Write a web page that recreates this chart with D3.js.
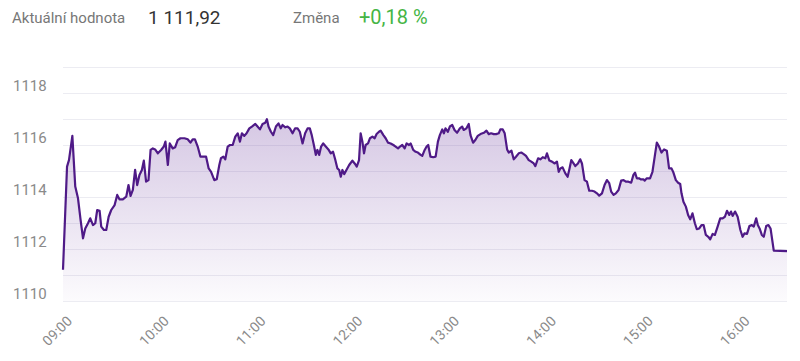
<!DOCTYPE html>
<html>
<head>
<meta charset="utf-8">
<script src="https://cdn.jsdelivr.net/npm/d3@7"></script>
<style>
  body { margin: 0; background: #fff; font-family: Roboto, sans-serif; }
</style>
</head>
<body>
<script>
var headerLabels = ["Aktuální hodnota", "Změna"];
var headerValues = ["1 111,92", "+0,18 %"];

var yTicks = [1110, 1112, 1114, 1116, 1118];
var xTickLabels = ["09:00", "10:00", "11:00", "12:00", "13:00", "14:00", "15:00", "16:00"];

// minutes after 09:00
var minutesFromOpen = [
  0, 2.5, 3.7, 5.8, 7.6, 9.3, 10.9, 12.4, 13.8, 15.5, 16.9, 18.6, 20.0, 21.2, 22.7, 23.7, 25.4, 26.8, 28.3, 29.9,
  32.0, 33.6, 35.0, 37.1, 39.2, 40.6, 41.9, 43.3, 44.7, 46.0, 47.4, 48.9, 50.1, 51.5, 53.0, 54.3, 55.7, 57.1, 58.8, 60.8,
  62.5, 63.5, 65.0, 66.2, 68.0, 69.5, 71.1, 72.8, 75.3, 77.3, 79.0, 80.4, 81.8, 83.5, 85.2, 87.2,
  88.7, 90.3, 91.8, 93.8, 95.3, 96.9, 97.9, 99.4, 100.6, 102.1, 103.5, 105.2, 106.8, 108.3, 109.7, 110.9, 112.4, 113.8,
  115.5, 117.1, 119.2, 120.6, 122.1, 123.7, 125.4, 126.4, 127.4, 128.9, 130.3, 132.0, 133.6, 135.0, 136.1, 137.8, 139.2,
  140.6, 142.3, 143.9, 145.4, 146.8, 148.5, 150.1, 151.6, 153.0, 154.2, 155.7, 156.7, 157.7, 158.8, 160.0, 161.3, 162.9,
  164.5, 166.0, 167.4, 168.7, 170.1, 171.2, 172.2, 173.2, 174.3, 175.7, 177.4,
  179.4, 180.8, 182.1, 183.5, 184.5, 185.6, 186.6, 187.6, 189.1, 190.3, 191.8, 193.2, 194.4, 195.9, 196.9, 198.6, 200.0,
  201.5, 203.1, 204.8, 206.2, 207.7, 208.9, 210.3, 211.8, 213.0, 214.5, 215.5, 217.1, 218.6, 220.0, 221.7, 222.7, 224.2,
  225.4, 226.4, 227.8, 229.5, 231.0, 232.4, 233.6, 235.1, 236.1, 237.1, 238.6, 239.8, 241.3, 242.7, 244.3, 246.0, 247.4,
  248.4, 250.1, 251.5, 252.6, 254.2, 255.6, 257.1, 258.8, 260.9, 262.5, 263.9, 265.4, 267.0,
  268.5, 270.1, 271.1, 272.6, 273.8, 275.3, 276.3, 278.0, 279.4, 280.8, 282.5, 284.1, 285.6, 287.0, 288.7, 290.3, 291.8,
  292.8, 294.5, 295.9, 297.4, 299.0, 300.0, 301.5, 303.1, 304.8, 306.2, 307.3, 308.3, 309.7, 311.4, 312.8, 314.0, 315.1,
  316.5, 317.6, 319.2, 320.6, 321.7, 323.3, 324.8, 326.2, 327.9, 329.5, 331.0, 332.4, 334.1, 335.7, 337.2, 338.6, 339.8,
  341.3, 342.7, 344.4, 346.0, 347.5, 348.9, 350.5, 352.2, 353.6, 354.6, 355.7, 357.1,
  358.1, 359.8, 360.6, 361.9, 363.9, 365.4, 366.8, 368.1, 369.5, 371.0, 372.6, 374.3, 375.7, 377.2, 378.4, 379.9, 381.3,
  382.6, 383.4, 384.6, 386.1, 387.5, 388.8, 390.2, 391.7, 392.9, 394.4, 395.8, 397.1, 398.5, 400.0, 401.2, 402.7, 404.1,
  405.8, 407.4, 408.9, 410.3, 411.6, 413.0, 414.1, 415.1, 416.6, 418.2, 419.9, 421.3, 422.4, 424.0, 425.5, 427.0, 428.2,
  429.7, 430.7, 431.8, 433.2, 434.4, 435.9, 437.3, 438.6, 440.6, 448.8
];

var prices = [
  1111.2, 1115.17, 1115.42, 1116.35, 1114.40, 1113.95, 1113.12, 1112.41, 1112.79, 1112.99, 1113.18, 1112.92, 1112.99, 1113.50, 1113.47, 1112.86, 1112.73, 1112.73, 1113.24, 1113.50,
  1113.69, 1114.08, 1113.91, 1113.91, 1114.01, 1114.46, 1114.04, 1114.27, 1115.04, 1114.46, 1114.85, 1115.04, 1115.40, 1114.59, 1114.65, 1115.81, 1115.87, 1115.83, 1115.68, 1115.81,
  1115.94, 1116.13, 1115.23, 1116.06, 1115.87, 1115.91, 1116.19, 1116.26, 1116.26, 1116.22, 1116.09, 1116.22, 1116.22, 1115.94, 1115.55, 1115.55,
  1115.55, 1115.10, 1114.97, 1114.65, 1114.68, 1115.23, 1115.49, 1115.55, 1115.45, 1115.94, 1116.00, 1116.00, 1116.32, 1116.45, 1116.13, 1116.45, 1116.35, 1116.45,
  1116.64, 1116.71, 1116.81, 1116.71, 1116.60, 1116.81, 1116.86, 1116.99, 1116.71, 1116.51, 1116.38, 1116.71, 1116.83, 1116.64, 1116.77, 1116.68, 1116.71,
  1116.64, 1116.45, 1116.64, 1116.64, 1116.51, 1116.06, 1116.45, 1116.64, 1116.64, 1116.38, 1115.94, 1115.62, 1115.81, 1115.62, 1115.94, 1116.06, 1115.94,
  1115.83, 1115.68, 1115.74, 1115.45, 1115.10, 1115.04, 1114.78, 1115.04, 1114.88, 1115.04, 1115.23,
  1115.40, 1115.29, 1115.17, 1115.42, 1116.45, 1116.13, 1115.68, 1116.00, 1116.06, 1116.26, 1116.32, 1116.26, 1116.42, 1116.51, 1116.55, 1116.38, 1116.26,
  1116.09, 1116.06, 1116.00, 1115.94, 1115.87, 1115.94, 1116.00, 1115.87, 1116.06, 1116.00, 1116.06, 1115.81, 1115.74, 1115.71, 1115.62, 1115.58, 1115.81,
  1115.94, 1116.00, 1115.55, 1115.53, 1115.55, 1116.13, 1116.38, 1116.60, 1116.45, 1116.64, 1116.51, 1116.71, 1116.77, 1116.58, 1116.47, 1116.64, 1116.71,
  1116.58, 1116.64, 1116.81, 1116.38, 1116.09, 1116.19, 1116.35, 1116.42, 1116.47, 1116.55, 1116.42, 1116.45, 1116.42,
  1116.42, 1116.45, 1116.60, 1116.60, 1116.45, 1115.83, 1115.71, 1115.78, 1115.45, 1115.55, 1115.68, 1115.71, 1115.65, 1115.58, 1115.42, 1115.36, 1115.29,
  1115.19, 1115.49, 1115.45, 1115.53, 1115.49, 1115.68, 1115.40, 1115.36, 1115.29, 1115.36, 1114.97, 1115.10, 1115.14, 1114.91, 1114.78, 1115.10, 1115.42,
  1115.29, 1115.19, 1115.29, 1115.45, 1115.29, 1114.65, 1114.59, 1114.24, 1114.24, 1114.21, 1114.14, 1114.05, 1114.14, 1114.46, 1114.65, 1114.53, 1114.21,
  1114.08, 1114.14, 1114.27, 1114.63, 1114.65, 1114.59, 1114.59, 1114.55, 1114.85, 1114.94, 1114.72, 1114.72,
  1114.68, 1114.68, 1114.63, 1114.72, 1114.72, 1114.97, 1115.55, 1116.09, 1115.94, 1115.71, 1115.83, 1115.78, 1115.10, 1115.10, 1114.94, 1114.65, 1114.55,
  1114.50, 1114.14, 1113.82, 1113.63, 1113.31, 1113.14, 1113.37, 1112.99, 1112.76, 1112.79, 1112.92, 1112.92, 1112.54, 1112.47, 1112.37, 1112.58, 1112.54,
  1112.86, 1113.18, 1113.18, 1113.24, 1113.47, 1113.31, 1113.44, 1113.27, 1113.44, 1113.24, 1112.73, 1112.47, 1112.60, 1112.58, 1112.88, 1112.92, 1112.86,
  1113.18, 1112.92, 1112.79, 1112.54, 1112.47, 1112.88, 1112.92, 1112.79, 1111.94, 1111.92
];

var width = 800, height = 361;
var openTime = new Date(2020, 0, 6, 9, 0);

var data = minutesFromOpen.map(function(m, i) {
  return {date: new Date(openTime.getTime() + m * 60000), value: prices[i]};
});

var x = d3.scaleTime()
  .domain(d3.extent(data, function(d) { return d.date; }))
  .range([63, 787]);

var y = d3.scaleLinear()
  .domain([1110, 1119])
  .range([301, 67]);

var svg = d3.select("body").append("svg")
  .attr("width", width)
  .attr("height", height);

// header
var header = svg.append("g").attr("class", "header");
header.append("text").attr("x", 12).attr("y", 23)
  .style("font-size", "15px").style("fill", "#777")
  .text(headerLabels[0]);
header.append("text").attr("x", 148).attr("y", 24)
  .style("font-size", "19px").style("fill", "#333")
  .text(headerValues[0]);
header.append("text").attr("x", 293).attr("y", 23)
  .style("font-size", "15px").style("fill", "#777")
  .text(headerLabels[1]);
header.append("text").attr("x", 359).attr("y", 24)
  .style("font-size", "20px").style("fill", "#45b545")
  .text(headerValues[1]);

var defs = svg.append("defs");
var grad = defs.append("linearGradient")
  .attr("id", "areaFill")
  .attr("gradientUnits", "userSpaceOnUse")
  .attr("x1", 0).attr("x2", 0)
  .attr("y1", y(1117)).attr("y2", y(1110));
grad.append("stop").attr("offset", "0%").attr("stop-color", "#6b3a9e").attr("stop-opacity", 0.28);
grad.append("stop").attr("offset", "100%").attr("stop-color", "#6b3a9e").attr("stop-opacity", 0.02);

// gridlines, one per unit
svg.append("g").attr("class", "grid")
  .selectAll("line")
  .data(d3.range(y.domain()[0], y.domain()[1] + 1))
  .enter().append("line")
  .attr("x1", 63).attr("x2", 787)
  .attr("y1", function(d) { return y(d) + 0.5; })
  .attr("y2", function(d) { return y(d) + 0.5; })
  .style("stroke", "#ececf2")
  .style("stroke-width", 1);

// y labels
svg.append("g").attr("class", "y-labels")
  .selectAll("text")
  .data(yTicks)
  .enter().append("text")
  .attr("x", 13)
  .attr("y", function(d) { return y(d) - 2; })
  .style("font-size", "15px")
  .style("fill", "#8a8a8a")
  .text(function(d) { return d; });

// x labels
var parseHM = d3.timeParse("%H:%M");
svg.append("g").attr("class", "x-labels")
  .selectAll("text")
  .data(xTickLabels)
  .enter().append("text")
  .attr("transform", function(d) {
    var t = parseHM(d);
    var dt = new Date(openTime);
    dt.setHours(t.getHours(), t.getMinutes());
    return "translate(" + (x(dt) + 10) + ",322) rotate(-45)";
  })
  .style("text-anchor", "end")
  .style("font-size", "14px")
  .style("fill", "#8a8a8a")
  .text(function(d) { return d; });

var area = d3.area()
  .x(function(d) { return x(d.date); })
  .y0(y(1110))
  .y1(function(d) { return y(d.value); });

var line = d3.line()
  .x(function(d) { return x(d.date); })
  .y(function(d) { return y(d.value); });

svg.append("path")
  .datum(data)
  .attr("d", area)
  .style("fill", "url(#areaFill)");

svg.append("path")
  .datum(data)
  .attr("d", line)
  .style("fill", "none")
  .style("stroke", "#4f1a87")
  .style("stroke-width", 2.2)
  .style("stroke-linejoin", "round");
</script>
</body>
</html>
